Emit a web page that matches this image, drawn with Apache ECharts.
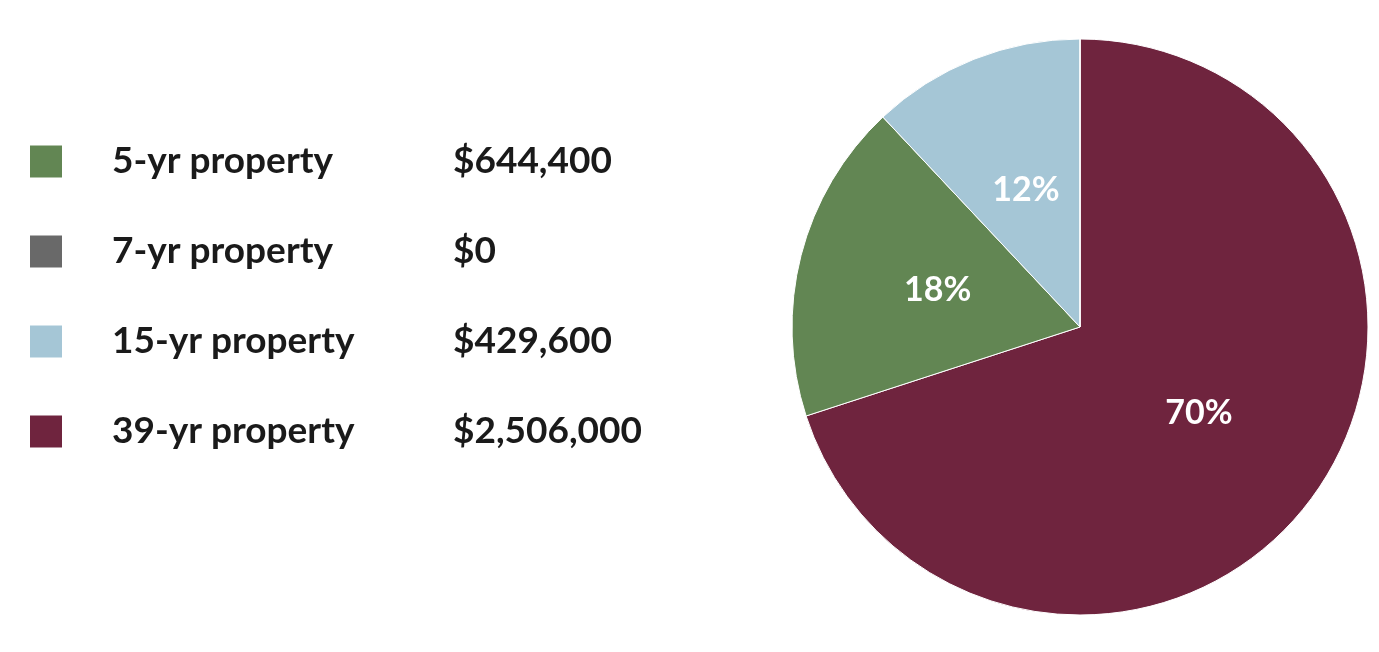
<!DOCTYPE html>
<html><head><meta charset="utf-8">
<script src="https://cdn.jsdelivr.net/npm/echarts@6/dist/echarts.min.js"></script>
<style>html,body{margin:0;background:#fff}#c{width:1379px;height:652px}</style>
</head><body><div id="c"></div>
<script>
// legend order
var names = ['5-yr property', '7-yr property', '15-yr property', '39-yr property'];
var values = [644400, 0, 429600, 2506000];
var colors = ['#628653', '#696969', '#a5c6d6', '#6f243e'];
// pie draws clockwise from 12 o'clock in this order
var pieOrder = [3, 0, 2, 1];

var fmt = function (v) { return '$' + v.toLocaleString('en-US'); };
var total = values.reduce(function (a, b) { return a + b; }, 0);

var chart = echarts.init(document.getElementById('c'));
chart.setOption({
    animation: false,
    legend: {
        orient: 'vertical',
        left: 23, top: 138,
        itemWidth: 34, itemHeight: 34, itemGap: 53,
        icon: 'rect',
        data: names,
        formatter: function (n) {
            return '{a|' + n + '}{b|' + fmt(values[names.indexOf(n)]) + '}';
        },
        textStyle: {
            rich: {
                a: { fontFamily: 'Lato', fontWeight: 'bold', fontSize: 37, color: '#1a1a1a', width: 341, padding: [0, 0, 0, 44] },
                b: { fontFamily: 'Lato', fontWeight: 'bold', fontSize: 37, color: '#1a1a1a' }
            }
        }
    },
    series: [{
        type: 'pie',
        center: [1080, 327],
        radius: 288,
        startAngle: 90,
        clockwise: true,
        itemStyle: { borderColor: '#fff', borderWidth: 1 },
        label: {
            position: 'inside',
            fontFamily: 'Lato', fontWeight: 'bold', fontSize: 34, color: '#fff',
            formatter: function (p) {
                return p.value ? Math.round(p.value / total * 100) + '%' : '';
            }
        },
        labelLine: { show: false },
        data: pieOrder.map(function (i) {
            return { name: names[i], value: values[i], itemStyle: { color: colors[i] } };
        })
    }]
});
</script>
</body></html>
